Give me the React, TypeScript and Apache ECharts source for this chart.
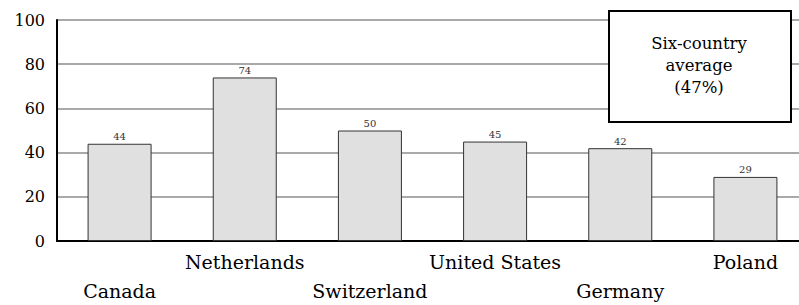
import React, { useEffect, useRef } from "react";
import * as echarts from "echarts";

const categories = ["Canada", "Netherlands", "Switzerland", "United States", "Germany", "Poland"];
const values = [44, 74, 50, 45, 42, 29];
const yTicks = [0, 20, 40, 60, 80, 100];
const boxLines = ["Six-country", "average", "(47%)"];

const FONT = "DejaVu Serif";

export default function App() {
  const ref = useRef<HTMLDivElement>(null);
  useEffect(() => {
    if (!ref.current) return;
    const chart = echarts.init(ref.current, null, { renderer: "svg" });
    chart.setOption({
      animation: false,
      backgroundColor: "#ffffff",
      textStyle: { fontFamily: FONT },
      grid: { left: 57, top: 20, right: 0, height: 223, containLabel: false },
      xAxis: {
        type: "category",
        data: categories,
        boundaryGap: true,
        axisLine: { show: true, lineStyle: { color: "#000", width: 2 } },
        axisTick: { show: false },
        axisLabel: {
          interval: 0,
          margin: 6,
          verticalAlign: "top",
          fontFamily: FONT,
          fontSize: 19,
          color: "#000",
          lineHeight: 29,
          formatter: (v: string, i: number) => (i % 2 === 0 ? "\n" + v : v),
        },
      },
      yAxis: {
        type: "value",
        min: yTicks[0],
        max: yTicks[yTicks.length - 1],
        interval: 20,
        axisLine: { show: true, lineStyle: { color: "#000", width: 2 } },
        axisTick: { show: false },
        axisLabel: { margin: 12, fontFamily: FONT, fontSize: 16, color: "#000" },
        splitLine: { show: true, lineStyle: { color: "#8c8c8c", width: 1.5 } },
      },
      series: [
        {
          type: "bar",
          data: values,
          barWidth: 64,
          itemStyle: { color: "#e0e0e0", borderColor: "#333", borderWidth: 1 },
          label: {
            show: true,
            position: "top",
            distance: 2,
            fontFamily: FONT,
            fontSize: 10,
            color: "#333",
          },
        },
      ],
      graphic: [
        {
          type: "rect",
          left: 608,
          top: 10,
          shape: { width: 182, height: 111 },
          style: { fill: "#fff", stroke: "#000", lineWidth: 2 },
          z: 100,
        },
        {
          type: "text",
          x: 699,
          y: 65,
          z: 101,
          style: {
            text: boxLines.join("\n"),
            fontFamily: FONT,
            fontSize: 16.5,
            lineHeight: 22,
            fill: "#000",
            align: "center",
            verticalAlign: "middle",
          },
        },
      ],
    });
    return () => chart.dispose();
  }, []);
  return (
    <div style={{ position: "absolute", left: 0, top: 0, width: 799, height: 305, overflow: "hidden" }}>
      <div ref={ref} style={{ position: "absolute", left: 0, top: 0, width: 808, height: 305 }} />
    </div>
  );
}
